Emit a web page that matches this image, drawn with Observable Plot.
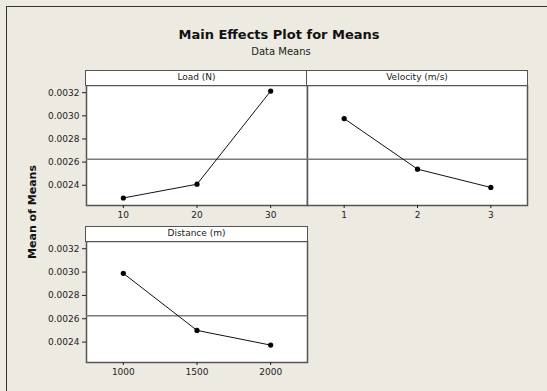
<!DOCTYPE html>
<html>
<head>
<meta charset="utf-8">
<script src="https://cdn.jsdelivr.net/npm/d3@7"></script>
<script src="https://cdn.jsdelivr.net/npm/@observablehq/plot@0.6"></script>
<style>
  html, body { margin: 0; padding: 0; }
  body { width: 547px; height: 391px; background: #EDEAE1; position: relative; overflow: hidden; font-family: "DejaVu Sans", sans-serif; }
  .frame { position: absolute; left: 6px; top: 6px; width: 600px; height: 500px; border-left: 1.5px solid #333; border-top: 1.5px solid #333; }
  .title { position: absolute; left: 0; width: 558px; top: 27px; text-align: center; font-weight: bold; font-size: 13px; color: #111; }
  .subtitle { position: absolute; left: 0; width: 562px; top: 46px; text-align: center; font-size: 10px; color: #222; }
  .strip { position: absolute; height: 16px; box-sizing: border-box; background: #fff; border: 1.5px solid #555; font-size: 9px; text-align: center; line-height: 13px; color: #222; }
  .ylab { position: absolute; left: 32px; top: 212px; transform: translate(-50%, -50%) rotate(-90deg); font-weight: bold; font-size: 11px; white-space: nowrap; color: #111; }
  .panel { position: absolute; }
</style>
</head>
<body>
<div class="frame"></div>
<div class="title">Main Effects Plot for Means</div>
<div class="subtitle">Data Means</div>
<div class="ylab">Mean of Means</div>
<div id="charts"></div>
<script>
// ---- data ----
const factorNames = ["Load (N)", "Velocity (m/s)", "Distance (m)"];
const loadLevels = [10, 20, 30];
const loadMeans = [0.00229, 0.002409, 0.003214];
const velocityLevels = [1, 2, 3];
const velocityMeans = [0.002976, 0.002539, 0.002381];
const distanceLevels = [1000, 1500, 2000];
const distanceMeans = [0.002989, 0.0025, 0.002374];
const grandMean = 0.002625;
const yTicks = [0.0024, 0.0026, 0.0028, 0.0030, 0.0032];

// ---- layout ----
const yDomain = [0.002225, 0.003262];
const panels = [
  {name: factorNames[0], levels: loadLevels, means: loadMeans, xDomain: [5, 35], left: 86, top: 85, w: 221, h: 120, yAxis: true},
  {name: factorNames[1], levels: velocityLevels, means: velocityMeans, xDomain: [0.5, 3.5], left: 307, top: 85, w: 220, h: 120, yAxis: false},
  {name: factorNames[2], levels: distanceLevels, means: distanceMeans, xDomain: [750, 2250], left: 86, top: 241, w: 221, h: 121, yAxis: true}
];

const container = document.getElementById("charts");
const mL = 60, mR = 2, mT = 2, mB = 25;

for (const p of panels) {
  const data = p.levels.map((l, i) => ({level: l, mean: p.means[i]}));
  const marks = [
    Plot.rect([0], {x1: p.xDomain[0], x2: p.xDomain[1], y1: yDomain[0], y2: yDomain[1], fill: "#fff"}),
    Plot.frame({stroke: "#555", strokeWidth: 1.5}),
    Plot.ruleY([grandMean], {stroke: "#7a7a7a", strokeWidth: 1.5}),
    Plot.line(data, {x: "level", y: "mean", stroke: "#111", strokeWidth: 1}),
    Plot.dot(data, {x: "level", y: "mean", r: 2.6, fill: "#000", stroke: "none"}),
    Plot.axisX({ticks: p.levels, tickSize: 3, tickPadding: 3, tickFormat: d3.format("d"), label: null, fontSize: 9})
  ];
  if (p.yAxis) marks.push(Plot.axisY({ticks: yTicks, tickSize: 4, tickPadding: 3, tickFormat: d3.format(".4f"), label: null, fontSize: 9}));
  const chart = Plot.plot({
    width: mL + p.w + mR,
    height: mT + p.h + mB,
    marginLeft: mL, marginRight: mR, marginTop: mT, marginBottom: mB,
    style: {background: "transparent", fontFamily: "DejaVu Sans, sans-serif", color: "#222", overflow: "visible"},
    x: {domain: p.xDomain},
    y: {domain: yDomain, axis: p.yAxis ? undefined : null},
    marks
  });
  const wrap = document.createElement("div");
  wrap.className = "panel";
  wrap.style.left = (p.left - mL) + "px";
  wrap.style.top = (p.top - mT) + "px";
  wrap.appendChild(chart);
  container.appendChild(wrap);

  const strip = document.createElement("div");
  strip.className = "strip";
  strip.style.left = (p.left - 0.75) + "px";
  strip.style.top = (p.top - 15) + "px";
  strip.style.width = (p.w + 1.5) + "px";
  strip.textContent = p.name;
  container.appendChild(strip);
}
</script>
</body>
</html>
